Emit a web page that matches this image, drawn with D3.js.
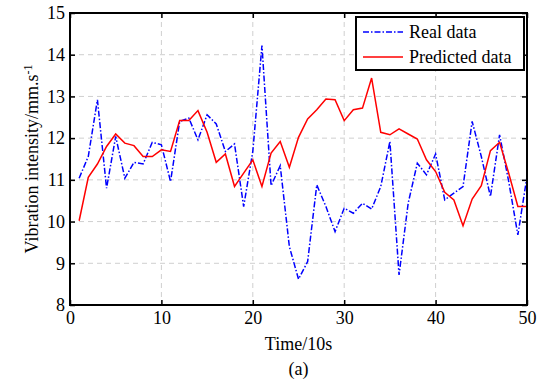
<!DOCTYPE html>
<html>
<head>
<meta charset="utf-8">
<script src="https://cdn.jsdelivr.net/npm/d3@7"></script>
<style>
  body { margin: 0; background: #fff; }
  svg text { font-family: "Liberation Serif", "Times New Roman", serif; fill: #000; }
</style>
</head>
<body>
<div id="chart-area"></div>
<script>
// time index 1..50 (x 10s)
var timeIdx = d3.range(1, 51);
var realData = [11.04, 11.56, 12.92, 10.8, 12.04, 11.04, 11.42, 11.38, 11.9, 11.84,
    10.96, 12.4, 12.48, 11.96, 12.56, 12.34, 11.68, 11.86, 10.36, 11.68,
    14.22, 10.86, 11.34, 9.4, 8.62, 9.04, 10.88, 10.36, 9.76, 10.32,
    10.2, 10.44, 10.3, 10.84, 11.92, 8.72, 10.44, 11.4, 11.12, 11.62,
    10.52, 10.68, 10.84, 12.4, 11.56, 10.6, 12.08, 10.96, 9.68, 11.08];
var predData = [10.02, 11.06, 11.38, 11.8, 12.1, 11.88, 11.82, 11.56, 11.56, 11.72,
    11.68, 12.42, 12.42, 12.66, 12.14, 11.42, 11.62, 10.84, 11.16, 11.48,
    10.84, 11.64, 11.92, 11.3, 12.02, 12.46, 12.68, 12.94, 12.92, 12.42,
    12.68, 12.72, 13.44, 12.14, 12.08, 12.22, 12.1, 11.98, 11.48, 11.2,
    10.7, 10.52, 9.9, 10.54, 10.86, 11.7, 11.9, 11.16, 10.36, 10.36];
var xTicks = [0, 10, 20, 30, 40, 50];
var yTicks = [8, 9, 10, 11, 12, 13, 14, 15];
var legendLabels = ["Real data", "Predicted data"];

var margin = { left: 70, right: 23, top: 13, bottom: 76 },
    width = 550 - margin.left - margin.right,
    height = 381 - margin.top - margin.bottom;

var svg = d3.select("#chart-area").append("svg")
    .attr("width", 550)
    .attr("height", 381);

var g = svg.append("g")
    .attr("transform", "translate(" + margin.left + "," + margin.top + ")");

// Scales
var x = d3.scaleLinear().domain([0, 50]).range([0, width]);
var y = d3.scaleLinear().domain([8, 15]).range([height, 0]);

// Grid
g.append("g").selectAll("line").data(xTicks.slice(1, -1)).enter().append("line")
    .attr("x1", function(d) { return x(d); })
    .attr("x2", function(d) { return x(d); })
    .attr("y1", 0).attr("y2", height)
    .attr("stroke", "#cfcfcf").attr("stroke-dasharray", "5,4");
g.append("g").selectAll("line").data(yTicks.slice(1, -1)).enter().append("line")
    .attr("y1", function(d) { return y(d); })
    .attr("y2", function(d) { return y(d); })
    .attr("x1", 0).attr("x2", width)
    .attr("stroke", "#cfcfcf").attr("stroke-dasharray", "5,4");

// Lines
var line = d3.line()
    .x(function(d, i) { return x(timeIdx[i]); })
    .y(function(d) { return y(d); });

g.append("path")
    .attr("d", line(realData))
    .attr("fill", "none")
    .attr("stroke", "#0000ff")
    .attr("stroke-width", 1.5)
    .attr("stroke-dasharray", "6,2,1.5,2");

g.append("path")
    .attr("d", line(predData))
    .attr("fill", "none")
    .attr("stroke", "#ff0000")
    .attr("stroke-width", 1.5);

// Axes (inside ticks on all sides)
var fmt = d3.format("d");
var xAxisCall = d3.axisBottom(x).tickValues(xTicks).tickFormat(fmt)
    .tickSizeInner(-5).tickSizeOuter(0).tickPadding(6);
var yAxisCall = d3.axisLeft(y).tickValues(yTicks).tickFormat(fmt)
    .tickSizeInner(-5).tickSizeOuter(0).tickPadding(5);

g.append("g")
    .attr("transform", "translate(0," + height + ")")
    .call(xAxisCall);
g.append("g").call(yAxisCall);
g.append("g").call(d3.axisTop(x).tickValues(xTicks).tickSizeInner(-5).tickSizeOuter(0).tickFormat(""));
g.append("g").attr("transform", "translate(" + width + ",0)")
    .call(d3.axisRight(y).tickValues(yTicks).tickSizeInner(-5).tickSizeOuter(0).tickFormat(""));

g.selectAll(".tick line").attr("stroke", "#000").attr("stroke-width", 1.5);
g.selectAll(".domain").remove();
g.selectAll(".tick text")
    .style("font-family", "'Liberation Serif', serif")
    .style("font-size", "18px")
    .attr("fill", "#000");

// Frame
g.append("rect")
    .attr("width", width).attr("height", height)
    .attr("fill", "none").attr("stroke", "#000").attr("stroke-width", 2);

// Axis labels
svg.append("text")
    .attr("x", margin.left + width / 2)
    .attr("y", 350)
    .attr("text-anchor", "middle")
    .style("font-size", "18px")
    .text("Time/10s");

svg.append("text")
    .attr("x", margin.left + width / 2)
    .attr("y", 375)
    .attr("text-anchor", "middle")
    .style("font-size", "18px")
    .text("(a)");

var yLabel = svg.append("text")
    .attr("transform", "translate(38," + (margin.top + height / 2) + ") rotate(-90)")
    .attr("text-anchor", "middle")
    .style("font-size", "18px");
yLabel.append("tspan").text("Vibration intensity/mm.s");
yLabel.append("tspan").attr("dy", "-0.5em").style("font-size", "12px").text("-1");

// Legend
var legend = svg.append("g").attr("transform", "translate(356,17)");
legend.append("rect")
    .attr("width", 168).attr("height", 53)
    .attr("fill", "#fff").attr("stroke", "#000").attr("stroke-width", 2);
var rows = legend.selectAll(".row").data(legendLabels).enter().append("g")
    .attr("transform", function(d, i) { return "translate(0," + (15 + i * 25) + ")"; });
rows.append("line")
    .attr("x1", 7).attr("x2", 47)
    .attr("stroke", function(d, i) { return i === 0 ? "#0000ff" : "#ff0000"; })
    .attr("stroke-width", 1.5)
    .attr("stroke-dasharray", function(d, i) { return i === 0 ? "6,2,1.5,2" : null; });
rows.append("text")
    .attr("x", 53).attr("dy", "0.35em")
    .style("font-size", "18px")
    .text(function(d) { return d; });
</script>
</body>
</html>
